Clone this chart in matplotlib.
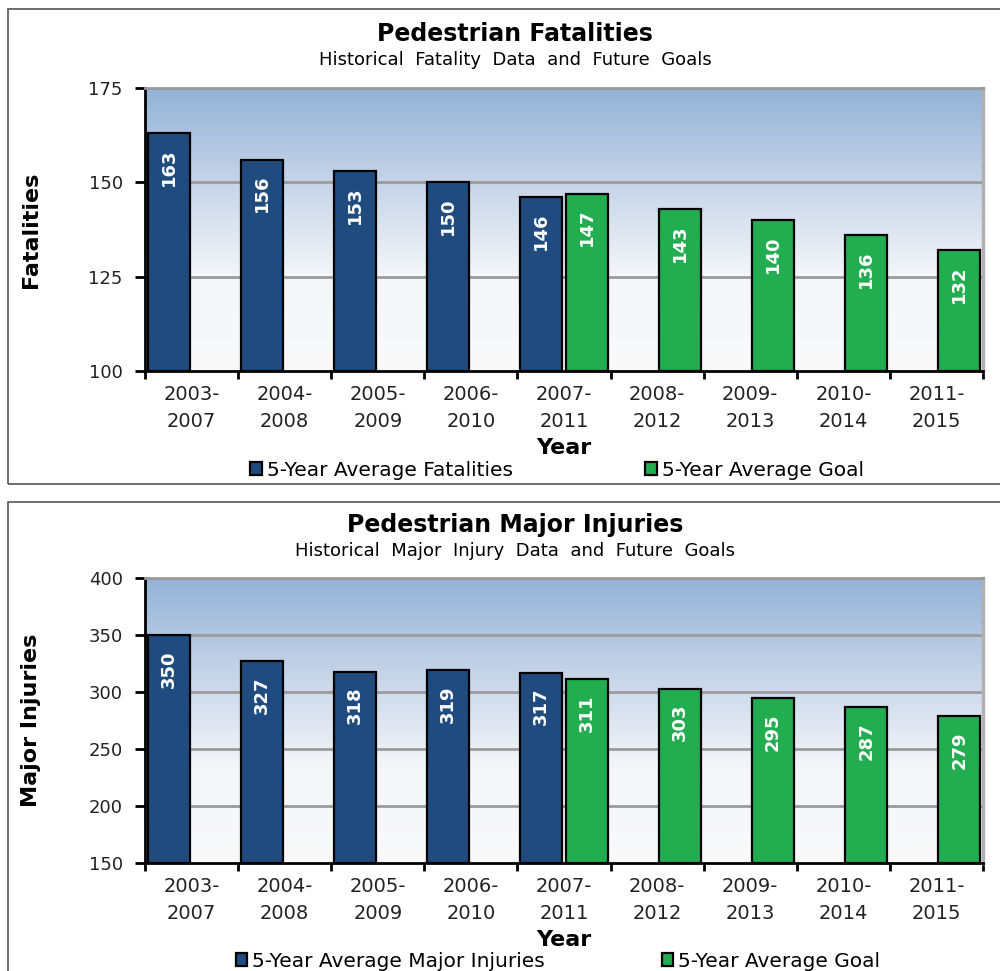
import numpy as np
import matplotlib
matplotlib.use("Agg")
from matplotlib import pyplot as plt
from matplotlib.patches import Rectangle
from matplotlib.colors import LinearSegmentedColormap

periods = ["2003-\n2007", "2004-\n2008", "2005-\n2009", "2006-\n2010", "2007-\n2011",
           "2008-\n2012", "2009-\n2013", "2010-\n2014", "2011-\n2015"]

fat_hist = [163, 156, 153, 150, 146]          # 2003-2007 .. 2007-2011
fat_goal = [147, 143, 140, 136, 132]          # 2007-2011 .. 2011-2015
inj_hist = [350, 327, 318, 319, 317]
inj_goal = [311, 303, 295, 287, 279]

fat_ticks = [100, 125, 150, 175]
inj_ticks = [150, 200, 250, 300, 350, 400]

BLUE = "#1f4b7f"
GREEN = "#22ad50"

plt.rcParams["font.family"] = "DejaVu Sans"
fig = plt.figure(figsize=(10, 9.71), dpi=100)

bg = LinearSegmentedColormap.from_list("bg", ["#f9f9f9", "#f4f6f9", "#c6d4e8", "#93b2d7"])

# panel frames
fig.patches.append(Rectangle((0.008, 0.5015), 1.2, 0.489, transform=fig.transFigure,
                             fill=False, ec="#555555", lw=1.2))
fig.patches.append(Rectangle((0.008, -0.1), 1.2, 0.583, transform=fig.transFigure,
                             fill=False, ec="#555555", lw=1.2))


def panel(rect, hist, goal, ticks, title, sub, ylab, leg1, title_y, leg_xy, colsp):
    ax = fig.add_axes(rect)
    n = len(periods)
    x = np.arange(n)
    lo, hi = ticks[0], ticks[-1]
    grad = np.linspace(0, 1, 256).reshape(-1, 1)
    ax.imshow(grad, cmap=bg, aspect="auto", origin="lower",
              extent=[-0.5, n - 0.5, lo, hi], zorder=0)
    for t in ticks[1:]:
        ax.axhline(t, color="#9a9a9a", lw=2, zorder=1)

    xh = x[:len(hist)]
    xg = x[n - len(goal):]
    b1 = ax.bar(xh - 0.245, np.array(hist) - lo, bottom=lo, width=0.45, color=BLUE,
                edgecolor="black", lw=1.6, zorder=3)
    b2 = ax.bar(xg + 0.245, np.array(goal) - lo, bottom=lo, width=0.45, color=GREEN,
                edgecolor="black", lw=1.6, zorder=3)
    for xs, vals in ((xh - 0.245, hist), (xg + 0.245, goal)):
        for xi, v in zip(xs, vals):
            ax.annotate(str(v), (xi, v), xytext=(0, -11), textcoords="offset points",
                        rotation=90, ha="center", va="top", color="white",
                        fontsize=13, fontweight="bold", zorder=4)

    ax.set_xlim(-0.5, n - 0.5)
    ax.set_ylim(lo, hi)
    ax.set_yticks(ticks)
    ax.set_xticks(x)
    ax.set_xticklabels(periods, fontsize=14, color="#222222", linespacing=1.55)
    ax.set_xticks(np.arange(n + 1) - 0.5, minor=True)
    ax.tick_params(axis="x", which="major", length=0, pad=10)
    ax.tick_params(axis="x", which="minor", length=6, width=2)
    ax.tick_params(axis="y", length=7, width=2, labelsize=13, pad=9, labelcolor="#222222")
    for s in ("left", "bottom"):
        ax.spines[s].set_linewidth(2)
    ax.spines["top"].set_color("#9a9a9a")
    ax.spines["top"].set_linewidth(2)
    ax.spines["right"].set_color("#b0b0b0")
    ax.spines["right"].set_linewidth(2.5)
    ax.set_xlabel("Year", fontsize=16, fontweight="bold", labelpad=5)
    ax.set_ylabel(ylab, fontsize=16, fontweight="bold", labelpad=34)

    fig.text(0.515, title_y, title, ha="center", va="center", fontsize=17, fontweight="bold")
    fig.text(0.515, title_y - 0.027, sub, ha="center", va="center", fontsize=13)

    fig.legend([b1, b2], [leg1, "5-Year Average Goal"], loc="center",
               bbox_to_anchor=leg_xy, ncol=2, frameon=False, fontsize=14.5,
               handlelength=0.55, handleheight=0.65, handletextpad=0.25,
               columnspacing=colsp, borderaxespad=0, borderpad=0)
    return ax


panel([0.145, 0.6179, 0.838, 0.2915], fat_hist, fat_goal, fat_ticks,
      "Pedestrian Fatalities", "Historical  Fatality  Data  and  Future  Goals",
      "Fatalities", "5-Year Average Fatalities", 1 - 34 / 971,
      (0.557, 1 - 470 / 971), 6.6)
panel([0.145, 0.1112, 0.838, 0.2935], inj_hist, inj_goal, inj_ticks,
      "Pedestrian Major Injuries", "Historical  Major  Injury  Data  and  Future  Goals",
      "Major Injuries", "5-Year Average Major Injuries", 1 - 525 / 971,
      (0.558, 1 - 961 / 971), 5.8)

fig.savefig("out.png", dpi=100)
